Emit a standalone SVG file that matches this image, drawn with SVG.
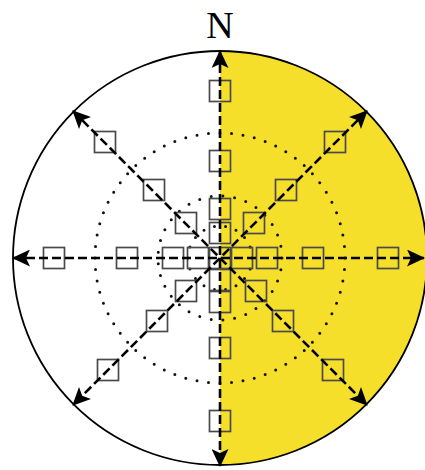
<svg xmlns="http://www.w3.org/2000/svg" width="425" height="470" viewBox="0 0 425 470">
<defs>
<style>
.sq{fill:none;stroke:#4a4a4a;stroke-width:1.7}
.dot{fill:none;stroke:#111;stroke-width:3;stroke-linecap:round;stroke-dasharray:0 1}
.ax{fill:none;stroke:#000;stroke-width:2.6;stroke-dasharray:9 4;marker-start:url(#ah);marker-end:url(#ah)}
</style>
<marker id="ah" viewBox="0 0 18 17" refX="17" refY="8.5" markerWidth="18" markerHeight="17" markerUnits="userSpaceOnUse" orient="auto-start-reverse">
<path d="M0,0 L18,8.5 L0,17 L4,8.5 Z" fill="#000"/>
</marker>
<rect id="s" x="-10.5" y="-10.5" width="21" height="21" class="sq"/>
</defs>
<rect width="425" height="470" fill="#fff"/>
<g id="background">
<path d="M220,51 A207,207 0 0 1 220,465 Z" fill="#f6df2b"/>
<circle cx="220" cy="258" r="207" fill="none" stroke="#000" stroke-width="1.8"/>
<circle cx="220" cy="258" r="125" class="dot" pathLength="68"/>
<circle cx="220" cy="258" r="62" class="dot" pathLength="33"/>
<circle cx="220" cy="258" r="32" class="dot" pathLength="18"/>
</g>
<text x="220" y="38" text-anchor="middle" font-family="Liberation Serif, serif" font-size="38">N</text>
<g id="nodes">
<g id="n-h1"><use href="#s" x="54" y="258"/></g>
<g id="n-h2"><use href="#s" x="127" y="258"/></g>
<g id="n-h3"><use href="#s" x="173" y="258"/></g>
<g id="n-h4"><use href="#s" x="198" y="258"/></g>
<g id="n-c"><use href="#s" x="220" y="258"/></g>
<g id="n-h5"><use href="#s" x="242" y="258"/></g>
<g id="n-h6"><use href="#s" x="267" y="258"/></g>
<g id="n-h7"><use href="#s" x="313" y="258"/></g>
<g id="n-h8"><use href="#s" x="388" y="258"/></g>
<g id="n-v1"><use href="#s" x="220" y="91"/></g>
<g id="n-v2"><use href="#s" x="220" y="161"/></g>
<g id="n-v3"><use href="#s" x="220" y="209"/></g>
<g id="n-v4"><use href="#s" x="220" y="233"/></g>
<g id="n-v5"><use href="#s" x="220" y="280"/></g>
<g id="n-v6"><use href="#s" x="220" y="302"/></g>
<g id="n-v7"><use href="#s" x="220" y="348"/></g>
<g id="n-v8"><use href="#s" x="220" y="421"/></g>
<g id="n-ul1"><use href="#s" x="105" y="142"/></g>
<g id="n-ul2"><use href="#s" x="154" y="190"/></g>
<g id="n-ul3"><use href="#s" x="186" y="223"/></g>
<g id="n-ur1"><use href="#s" x="335" y="142"/></g>
<g id="n-ur2"><use href="#s" x="286" y="190"/></g>
<g id="n-ur3"><use href="#s" x="254" y="223"/></g>
<g id="n-ll1"><use href="#s" x="108" y="370"/></g>
<g id="n-ll2"><use href="#s" x="157" y="321"/></g>
<g id="n-ll3"><use href="#s" x="186" y="291"/></g>
<g id="n-lr1"><use href="#s" x="333" y="370"/></g>
<g id="n-lr2"><use href="#s" x="283" y="321"/></g>
<g id="n-lr3"><use href="#s" x="256" y="291"/></g>
</g>
<g id="connectors">
<line class="ax" x1="220" y1="51" x2="220" y2="466"/>
<line class="ax" x1="13" y1="258" x2="424" y2="258"/>
<line class="ax" x1="73" y1="111" x2="367" y2="405"/>
<line class="ax" x1="367" y1="111" x2="73" y2="405"/>
</g>
</svg>
